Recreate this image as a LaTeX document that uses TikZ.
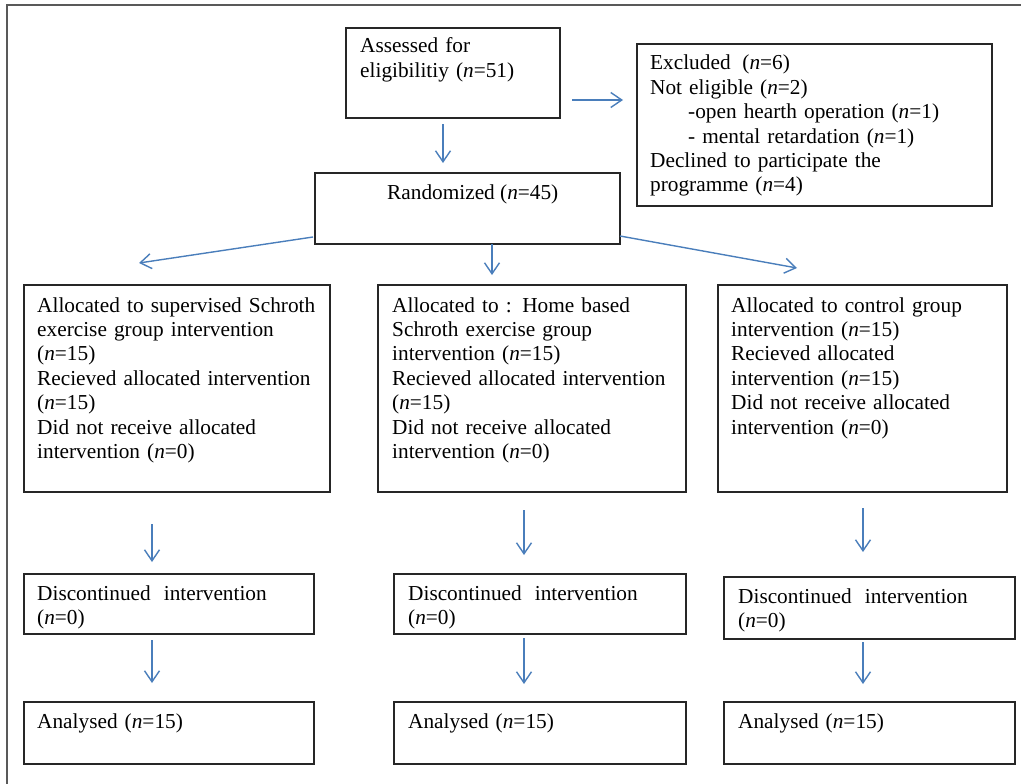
\documentclass[tikz,border=0pt]{standalone}
\usepackage{fontspec}
\setmainfont{Liberation Serif}
\usetikzlibrary{arrows.meta,calc}
\definecolor{arr}{HTML}{4A7EBB}
\begin{document}
\begin{tikzpicture}[x=1pt,y=-1pt,
  box/.style={draw=black!85, line width=1.3pt, anchor=north west, inner sep=0pt, outer sep=0pt},
  txt/.style={anchor=base west, inner sep=0pt, align=left, text width=#1,
              font=\fontsize{21.3}{24.4}\selectfont},
  txt/.default=320pt,
  conn/.style={draw=arr, line width=1.4pt, -{Straight Barb[length=11pt,width=15pt]}},
  outer/.style={draw=black!65, line width=2pt}]
\useasboundingbox (0,0) rectangle (1021,784);
\draw[outer] (7,790) -- (7,5) -- (1030,5);

% boxes
\node[box, minimum width=214pt, minimum height=90pt]  (assess) at (346,28) {};
\node[box, minimum width=355pt, minimum height=162pt] (excl)   at (637,44) {};
\node[box, minimum width=305pt, minimum height=71pt]  (rand)   at (315,173) {};
\node[box, minimum width=306pt, minimum height=207pt] (a1) at (24,285) {};
\node[box, minimum width=308pt, minimum height=207pt] (a2) at (378,285) {};
\node[box, minimum width=289pt, minimum height=207pt] (a3) at (718,285) {};
\node[box, minimum width=290pt, minimum height=60pt] (d1) at (24,574) {};
\node[box, minimum width=292pt, minimum height=60pt] (d2) at (394,574) {};
\node[box, minimum width=291pt, minimum height=62pt] (d3) at (724,577) {};
\node[box, minimum width=290pt, minimum height=62pt] (n1) at (24,702) {};
\node[box, minimum width=292pt, minimum height=62pt] (n2) at (394,702) {};
\node[box, minimum width=291pt, minimum height=62pt] (n3) at (724,702) {};

% texts
\node[txt] (assesst) at (360,53) {Assessed for\\eligibilitiy (\textit{n}=51)};
\node[txt] (exclt) at (650,70) {Excluded\hspace{0.22em} (\textit{n}=6)\\Not eligible (\textit{n}=2)\\\hspace*{38pt}-open hearth operation (\textit{n}=1)\\\hspace*{38pt}- mental retardation (\textit{n}=1)\\Declined to participate the\\programme (\textit{n}=4)};
\node[anchor=base west, inner sep=0pt, font=\fontsize{21.3}{24.4}\selectfont] (randt) at (387,199) {Randomized (\textit{n}=45)};
\node[txt] (a1t) at (37,312) {Allocated to supervised Schroth\\exercise group intervention\\(\textit{n}=15)\\Recieved allocated intervention\\(\textit{n}=15)\\Did not receive allocated\\intervention (\textit{n}=0)};
\node[txt] (a2t) at (392,312) {Allocated to : Home based\\Schroth exercise group\\intervention (\textit{n}=15)\\Recieved allocated intervention\\(\textit{n}=15)\\Did not receive allocated\\intervention (\textit{n}=0)};
\node[txt] (a3t) at (731,312) {Allocated to control group\\intervention (\textit{n}=15)\\Recieved allocated\\intervention (\textit{n}=15)\\Did not receive allocated\\intervention (\textit{n}=0)};
\node[txt] (d1t) at (37,600) {Discontinued\hspace{0.28em} intervention\\(\textit{n}=0)};
\node[txt] (d2t) at (408,600) {Discontinued\hspace{0.28em} intervention\\(\textit{n}=0)};
\node[txt] (d3t) at (738,603) {Discontinued\hspace{0.28em} intervention\\(\textit{n}=0)};
\node[txt] (n1t) at (37,728) {Analysed (\textit{n}=15)};
\node[txt] (n2t) at (408,728) {Analysed (\textit{n}=15)};
\node[txt] (n3t) at (738,728) {Analysed (\textit{n}=15)};

% connector end points
\coordinate (c1s) at (443,124); \coordinate (c1e) at (443,163);
\coordinate (c2s) at (572,100); \coordinate (c2e) at (623,100);
\coordinate (c3s) at (313,237); \coordinate (c3e) at (139,263);
\coordinate (c4s) at (492,244); \coordinate (c4e) at (492,275);
\coordinate (c5s) at (620,236); \coordinate (c5e) at (797,268);
\coordinate (c6s) at (152,524); \coordinate (c6e) at (152,562);
\coordinate (c7s) at (524,510); \coordinate (c7e) at (524,555);
\coordinate (c8s) at (863,508); \coordinate (c8e) at (863,552);
\coordinate (c9s) at (152,640); \coordinate (c9e) at (152,683);
\coordinate (c10s) at (524,638); \coordinate (c10e) at (524,684);
\coordinate (c11s) at (863,642); \coordinate (c11e) at (863,684);

\foreach \i in {1,...,11} {\draw[conn] (c\i s) -- (c\i e);}
\end{tikzpicture}
\end{document}
